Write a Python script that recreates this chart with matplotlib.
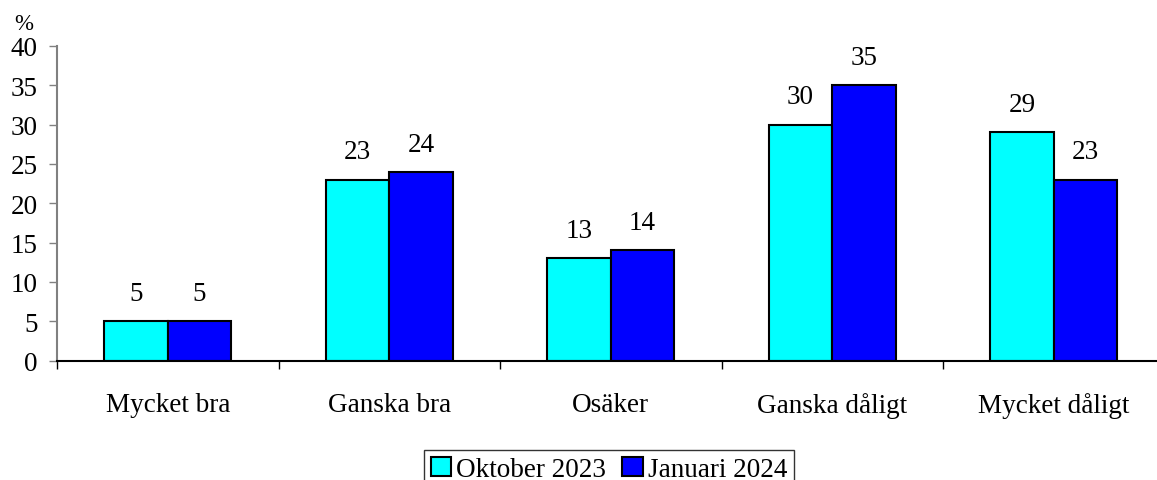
import matplotlib
matplotlib.use("Agg")
import matplotlib.pyplot as plt
import numpy as np

categories = ["Mycket bra", "Ganska bra", "Osäker", "Ganska dåligt", "Mycket dåligt"]
oct_2023 = [5, 23, 13, 30, 29]
jan_2024 = [5, 24, 14, 35, 23]
series_names = ["Oktober 2023", "Januari 2024"]
yticks = [0, 5, 10, 15, 20, 25, 30, 35, 40]

plt.rcParams['font.family'] = ['Liberation Serif', 'DejaVu Serif']
FS = 19.5

fig = plt.figure(figsize=(11.57, 4.81), dpi=100)
ax = fig.add_axes([57/1157, 1-361.5/481, 1107.5/1157, 314.5/481])

x = np.arange(len(categories))
w = 0.287
b1 = ax.bar(x - w/2, oct_2023, w, color='#00FFFF', edgecolor='black', linewidth=1.5, label=series_names[0])
b2 = ax.bar(x + w/2, jan_2024, w, color='#0000FF', edgecolor='black', linewidth=1.5, label=series_names[1])

for bars, vals in ((b1, oct_2023), (b2, jan_2024)):
    for r, v in zip(bars, vals):
        ax.annotate(str(v), (r.get_x() + r.get_width()/2, v), xytext=(0, 11),
                    textcoords='offset points', ha='center', va='bottom', fontsize=FS)

ax.set_xlim(-0.5, len(categories) - 0.5)
ax.set_ylim(0, 40)
ax.set_yticks(yticks)
ax.set_yticklabels([str(t) for t in yticks], fontsize=FS)
ax.set_xticks(x)
ax.set_xticklabels(categories, fontsize=FS)
ax.set_xticks(np.arange(-0.5, len(categories)), minor=True)
ax.tick_params(axis='x', which='major', length=0, pad=23)
ax.tick_params(axis='x', which='minor', length=6, width=1, color='black')
ax.tick_params(axis='y', length=6, width=1, color='#808080', pad=8)

for s in ('top', 'right'):
    ax.spines[s].set_visible(False)
ax.spines['left'].set_color('#808080')
ax.spines['left'].set_linewidth(1.5)
ax.spines['bottom'].set_color('black')
ax.spines['bottom'].set_linewidth(1.5)

fig.text(14/1157, 1-24/481, "%", fontsize=FS-3, ha='left', va='center')

leg = fig.legend(handles=[b1, b2], loc='lower center', bbox_to_anchor=(609/1157, -0.035),
                 ncol=2, fontsize=FS, frameon=True, fancybox=False, handlelength=0.75,
                 handleheight=0.75, handletextpad=0.2, columnspacing=0.6, borderpad=0.25,
                 borderaxespad=0.3, edgecolor='black')
leg.get_frame().set_linewidth(1.0)

fig.savefig("out.png", dpi=100)
